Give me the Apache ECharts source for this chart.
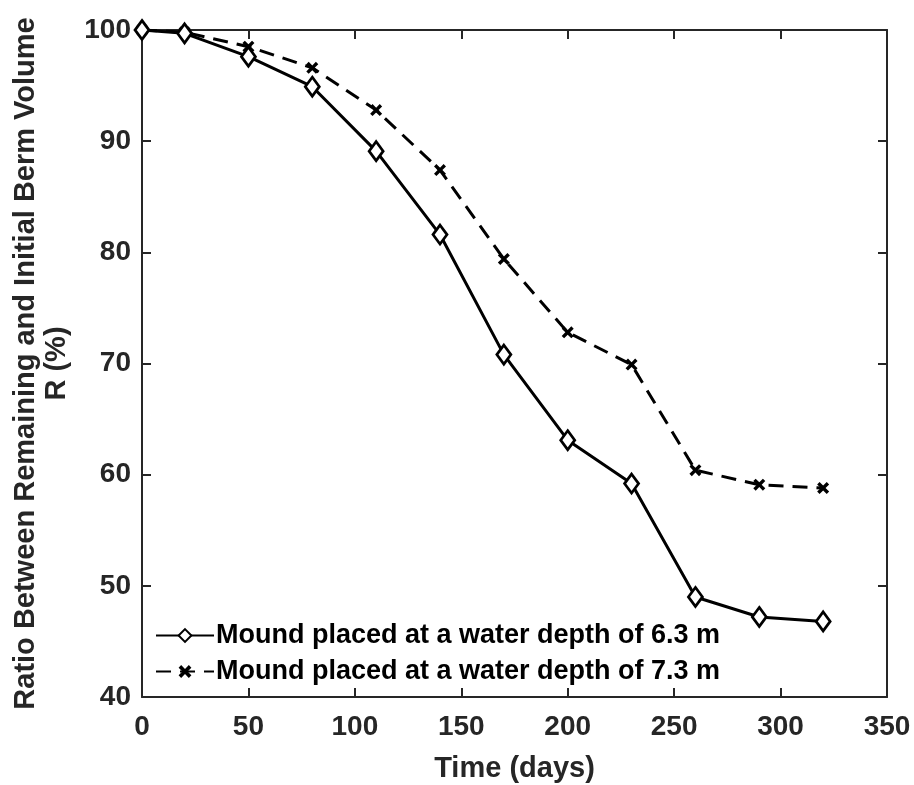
<!DOCTYPE html>
<html><head><meta charset="utf-8">
<script src="https://cdn.jsdelivr.net/npm/echarts@6/dist/echarts.min.js"></script>
<style>html,body{margin:0;padding:0;background:#fff}#c{width:914px;height:785px}</style>
</head><body><div id="c"></div>
<script>
const days = [0, 20, 50, 80, 110, 140, 170, 200, 230, 260, 290, 320];
const depth63 = [100, 99.7, 97.6, 94.9, 89.1, 81.6, 70.8, 63.1, 59.2, 49.0, 47.2, 46.8];
const depth73 = [100, 99.8, 98.5, 96.6, 92.8, 87.4, 79.4, 72.8, 69.9, 60.4, 59.1, 58.8];
const seriesNames = ['Mound placed at a water depth of 6.3 m', 'Mound placed at a water depth of 7.3 m'];
const xTicks = {min: 0, max: 350, interval: 50};
const yTicks = {min: 40, max: 100, interval: 10};

const FONT = '"Liberation Sans", Arial, sans-serif';
const AX = '#262626';
const xMark = 'path://M0,2 L2,0 L5,3 L8,0 L10,2 L7,5 L10,8 L8,10 L5,7 L2,10 L0,8 L3,5 Z';

const chart = echarts.init(document.getElementById('c'), null, {renderer: 'canvas'});
const axisCommon = {
  axisLine: {show: true, onZero: false, lineStyle: {color: AX, width: 2}},
  axisTick: {show: true, inside: true, length: 9, lineStyle: {color: AX, width: 2}},
  splitLine: {show: false},
};
chart.setOption({
  animation: false,
  backgroundColor: '#fff',
  grid: {left: 142, right: 27, top: 30, bottom: 88, containLabel: false, outerBoundsMode: 'none'},
  xAxis: [
    Object.assign({type: 'value', position: 'bottom', min: xTicks.min, max: xTicks.max, interval: xTicks.interval,
      name: 'Time (days)', nameLocation: 'middle', nameGap: 57,
      nameTextStyle: {fontFamily: FONT, fontWeight: 'bold', fontSize: 29, color: '#262626'},
      axisLabel: {margin: 16, fontFamily: FONT, fontWeight: 'bold', fontSize: 28, color: '#262626'}}, axisCommon),
    Object.assign({type: 'value', position: 'top', min: xTicks.min, max: xTicks.max, interval: xTicks.interval,
      axisLabel: {show: false}}, axisCommon)
  ],
  yAxis: [
    Object.assign({type: 'value', position: 'left', min: yTicks.min, max: yTicks.max, interval: yTicks.interval,
      name: 'Ratio Between Remaining and Initial Berm Volume\nR (%)', nameLocation: 'middle', nameGap: 70,
      nameTextStyle: {fontFamily: FONT, fontWeight: 'bold', fontSize: 29, color: '#262626', lineHeight: 31, align: 'center'},
      axisLabel: {margin: 11, fontFamily: FONT, fontWeight: 'bold', fontSize: 28, color: '#262626'}}, axisCommon),
    Object.assign({type: 'value', position: 'right', min: yTicks.min, max: yTicks.max, interval: yTicks.interval,
      axisLabel: {show: false}}, axisCommon)
  ],
  legend: {
    orient: 'vertical', left: 150, top: 617,
    itemWidth: 58, itemHeight: 16, itemGap: 9,
    textStyle: {fontFamily: FONT, fontWeight: 'bold', fontSize: 27, color: '#000', padding: [0, 0, 0, -3]},
    data: seriesNames
  },
  series: [
    {name: seriesNames[0], type: 'line', data: days.map((d, i) => [d, depth63[i]]),
      symbol: 'diamond', symbolSize: [14, 19], showAllSymbol: true,
      lineStyle: {color: '#000', width: 3, type: 'solid'},
      itemStyle: {color: '#fff', borderColor: '#000', borderWidth: 2.8}, z: 3},
    {name: seriesNames[1], type: 'line', data: days.map((d, i) => [d, depth73[i]]),
      symbol: xMark, symbolSize: 12, showAllSymbol: true,
      lineStyle: {color: '#000', width: 3, type: [15, 9]},
      itemStyle: {color: '#000', borderWidth: 0}, z: 2}
  ]
});
</script></body></html>
